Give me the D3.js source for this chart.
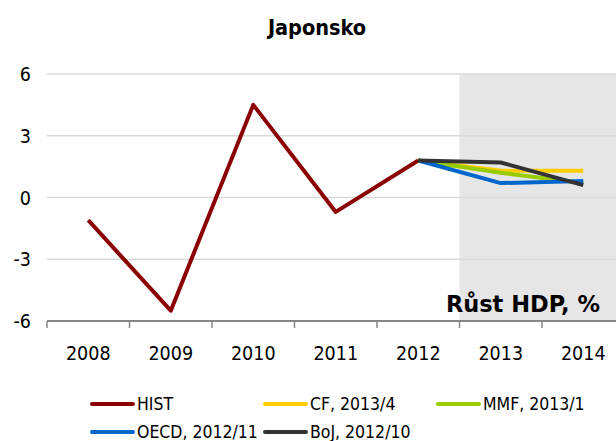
<!DOCTYPE html>
<html><head><meta charset="utf-8">
<script src="https://cdn.jsdelivr.net/npm/d3@7"></script>
<style>body{margin:0;background:#fff}svg{display:block}</style>
</head><body>
<svg id="c" width="616" height="441"></svg>
<script>
const years = ["2008","2009","2010","2011","2012","2013","2014"];
const yTicks = [-6,-3,0,3,6];
const histYears = ["2008","2009","2010","2011","2012"];
const histValues = [-1.1,-5.5,4.5,-0.7,1.8];
const fcYears = ["2012","2013","2014"];
const cfValues = [1.8,1.3,1.3];
const mmfValues = [1.8,1.2,0.7];
const oecdValues = [1.8,0.7,0.8];
const bojValues = [1.8,1.7,0.6];
const shadedYears = ["2013","2014"];
const seriesNames = ["HIST","CF, 2013/4","MMF, 2013/1","OECD, 2012/11","BoJ, 2012/10"];
const seriesColors = ["#8B0000","#FFCC00","#99CC00","#0066CC","#333333"];
const title = "Japonsko";
const subtitle = "Růst HDP, %";

const FONT = "'DejaVu Sans Condensed','DejaVu Sans',sans-serif";
const FONT_W = "'DejaVu Sans',sans-serif";
const svg = d3.select("#c");
const x = d3.scaleBand().domain(years).range([47, 47 + 7*82.5]).padding(0);
const y = d3.scaleLinear().domain([-6, 6]).range([321, 74]);
const cx = d => x(d) + x.bandwidth()/2;

// shaded forecast area
svg.append("rect")
  .attr("x", x(shadedYears[0]))
  .attr("y", y(6))
  .attr("width", x(shadedYears[1]) + x.bandwidth() - x(shadedYears[0]))
  .attr("height", y(-6) - y(6))
  .attr("fill", "#e6e6e6");

// gridlines
svg.append("g").selectAll("line").data(yTicks.filter(t => t !== -6)).join("line")
  .attr("x1", 47).attr("x2", 616)
  .attr("y1", d => y(d)).attr("y2", d => y(d))
  .attr("stroke", "#d9d9d9").attr("stroke-width", 1.5);

// y labels
svg.append("g").selectAll("text").data(yTicks).join("text")
  .attr("x", 31).attr("y", d => y(d)).attr("dy", "0.36em")
  .attr("text-anchor", "end")
  .attr("font-family", FONT).attr("font-size", 19.5).attr("fill", "#000")
  .text(d => d);

// x axis
const xAxis = d3.axisBottom(x).tickSize(0).tickFormat(d => d);
const gx = svg.append("g").attr("transform", `translate(0,${y(-6)})`).call(xAxis);
gx.select(".domain").remove();
gx.selectAll("text").attr("font-family", FONT).attr("font-size", 19.5).attr("fill", "#000").attr("dy", 0).attr("y", 39);
svg.append("line").attr("x1", 47).attr("x2", 616).attr("y1", y(-6)).attr("y2", y(-6))
  .attr("stroke", "#868686").attr("stroke-width", 2);
svg.append("g").selectAll("line").data(years).join("line")
  .attr("x1", d => x(d)).attr("x2", d => x(d))
  .attr("y1", y(-6)).attr("y2", y(-6) + 7)
  .attr("stroke", "#868686").attr("stroke-width", 1.5);

// lines
const line = d3.line().x(d => cx(d[0])).y(d => y(d[1]));
const seriesData = [
  d3.zip(histYears, histValues),
  d3.zip(fcYears, cfValues),
  d3.zip(fcYears, mmfValues),
  d3.zip(fcYears, oecdValues),
  d3.zip(fcYears, bojValues)
];
svg.append("g").selectAll("path").data(seriesData).join("path")
  .attr("d", line)
  .attr("fill", "none")
  .attr("stroke", (d, i) => seriesColors[i])
  .attr("stroke-width", 4)
  .attr("stroke-linejoin", "round");

// title & subtitle
svg.append("text").attr("x", 317).attr("y", 35).attr("text-anchor", "middle")
  .attr("font-family", FONT).attr("font-weight", "bold").attr("font-size", 21.5).text(title);
svg.append("text").attr("x", 600).attr("y", 312).attr("text-anchor", "end")
  .attr("font-family", FONT_W).attr("font-weight", "bold").attr("font-size", 22.5).text(subtitle);

// legend
const legendPos = [[92,404],[265,404],[438,404],[92,432],[265,432]];
const lg = svg.append("g").selectAll("g").data(seriesNames).join("g")
  .attr("transform", (d, i) => `translate(${legendPos[i][0]},${legendPos[i][1]})`);
lg.append("line").attr("x1", 0).attr("x2", 41).attr("y1", 0).attr("y2", 0)
  .attr("stroke", (d, i) => seriesColors[i]).attr("stroke-width", 4).attr("stroke-linecap", "round");
lg.append("text").attr("x", 45).attr("y", 0).attr("dy", "0.36em")
  .attr("font-family", FONT).attr("font-size", 17.5).attr("fill", "#000").text(d => d);
</script>
</body></html>
